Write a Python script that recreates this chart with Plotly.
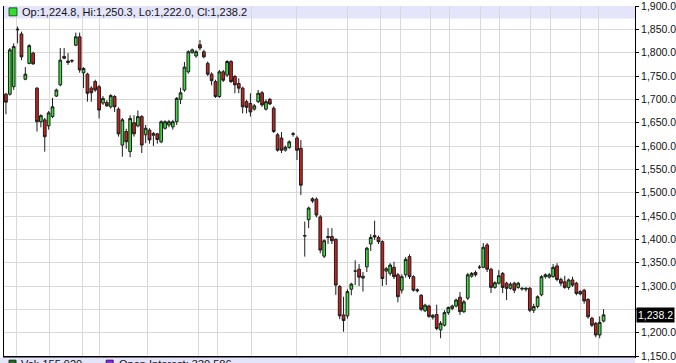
import plotly.graph_objects as go

opens = [1711,1711,1727,1849,1840,1743,1777,1799,1724,1652,1656,1643,1663,1707,1731,1788,1779,1782,1816,1834,
         1757,1754,1724,1738,1727,1692,1693,1684,1706,1679,1602,1631,1588,1650,1643,1663,1624,1634,1623,1626,
         1609,1638,1645,1641,1652,1700,1720,1759,1800,1793,1817,1802,1777,1754,1738,1706,1759,1752,1781,1749,
         1734,1724,1695,1691,1679,1695,1714,1679,1700,1681,1624,1617,1591,1597,1625,1617,1595,1407,1442,1487,
         1486,1448,1364,1406,1406,1400,1299,1238,1236,1293,1332,1336,1317,1341,1390,1408,1404,1395,1332,1327,
         1340,1324,1291,1324,1363,1320,1292,1280,1247,1257,1233,1239,1206,1216,1243,1252,1257,1276,1245,1274,
         1321,1329,1340,1340,1388,1336,1297,1306,1327,1306,1295,1306,1297,1295,1293,1295,1248,1256,1281,1320,
         1319,1320,1343,1314,1309,1297,1313,1306,1288,1291,1271,1231,1220,1195,1224.8]
highs = [1714,1810,1820,1856,1845,1769,1818,1802,1726,1668,1660,1675,1703,1723,1810,1810,1799,1786,1843,1843,
         1769,1757,1728,1742,1731,1707,1698,1711,1709,1683,1660,1637,1666,1666,1676,1666,1645,1638,1630,1628,
         1655,1655,1656,1656,1705,1725,1780,1805,1809,1806,1827,1806,1781,1758,1742,1763,1763,1784,1784,1752,
         1745,1727,1699,1713,1690,1720,1718,1700,1703,1685,1628,1630,1601,1612,1630,1622,1613,1438,1470,1490,
         1490,1452,1400,1424,1424,1402,1302,1277,1293,1307,1355,1347,1330,1384,1411,1440,1408,1398,1341,1349,
         1352,1328,1325,1362,1368,1323,1295,1283,1262,1260,1240,1260,1225,1248,1256,1260,1273,1287,1270,1328,
         1330,1333,1345,1392,1392,1339,1310,1334,1330,1309,1308,1309,1309,1298,1297,1298,1262,1280,1323,1327,
         1328,1347,1349,1318,1322,1316,1320,1309,1291,1294,1274,1234,1223,1235,1250.3]
lows = [1668,1708,1720,1820,1784,1741,1775,1774,1631,1640,1588,1635,1660,1705,1728,1786,1774,1778,1814,1757,
        1724,1695,1695,1716,1659,1688,1684,1680,1673,1620,1577,1594,1576,1620,1640,1585,1606,1605,1600,1605,
        1606,1635,1640,1635,1645,1690,1716,1755,1798,1789,1805,1788,1750,1730,1703,1703,1737,1748,1735,1713,
        1713,1670,1670,1663,1676,1692,1684,1676,1688,1628,1588,1585,1588,1594,1620,1570,1495,1363,1424,1478,
        1447,1370,1360,1390,1390,1281,1229,1202,1230,1280,1302,1300,1288,1330,1375,1399,1390,1300,1302,1322,
        1315,1265,1284,1318,1315,1288,1286,1246,1244,1232,1228,1205,1188,1213,1238,1248,1254,1238,1242,1270,
        1318,1320,1336,1338,1330,1285,1294,1303,1285,1270,1292,1285,1294,1290,1288,1244,1242,1252,1278,1316,
        1316,1318,1310,1300,1294,1292,1298,1280,1280,1262,1230,1212,1190,1188,1222.0]
closes = [1694,1806,1813,1850,1791,1754,1815,1776,1652,1665,1620,1671,1684,1720,1784,1792,1782,1783,1834,1763,
          1766,1713,1714,1720,1677,1702,1686,1708,1684,1626,1656,1609,1659,1626,1663,1602,1638,1613,1627,1614,
          1652,1652,1652,1652,1702,1714,1769,1802,1806,1802,1810,1791,1754,1740,1706,1759,1741,1781,1738,1731,
          1724,1684,1683,1673,1686,1713,1688,1695,1690,1631,1591,1591,1597,1609,1626,1591,1516,1408,1467,1482,
          1452,1377,1397,1404,1397,1302,1236,1226,1288,1304,1332,1319,1321,1381,1404,1405,1395,1316,1337,1345,
          1320,1277,1320,1357,1320,1291,1290,1250,1259,1235,1237,1209,1220,1243,1254,1257,1270,1245,1266,1324,
          1327,1324,1340,1383,1336,1297,1307,1322,1297,1295,1304,1291,1306,1294,1295,1248,1256,1277,1320,1324,
          1324,1340,1314,1306,1297,1313,1302,1284,1283,1268,1234,1216,1195,1222,1238.2]
idx = list(range(len(closes)))

y_ticks = list(range(1150, 1901, 50))
hidden_tick = 1250  # covered by the last-price label in the reference
y_ticktext = ["" if v == hidden_tick else f"{v:,.1f}" for v in y_ticks]
x_grid = [2.6, 11.1, 19.6, 24, 36.6, 49.5, 54.4, 63.2, 75, 87.9, 96.4, 101.6, 109.5, 114.4,
          122.2, 127.3, 135.1, 140.2, 148, 152.6]

header_text = "Op:1,224.8, Hi:1,250.3, Lo:1,222.0, Cl:1,238.2"
last_label = "1,238.2"
vol_text = "Vol: 155,920"
oi_text = "Open Interest: 330,586"

FONT = "Liberation Sans, Arial, sans-serif"
LAV = "#e4e4fb"

fig = go.Figure()
fig.add_trace(go.Candlestick(
    x=idx, open=opens, high=highs, low=lows, close=closes,
    increasing=dict(fillcolor="#3ddc3d", line=dict(color="#1c1c1c", width=1)),
    decreasing=dict(fillcolor="#cc2020", line=dict(color="#1c1c1c", width=1)),
    whiskerwidth=0, hoverinfo="skip", showlegend=False,
))

shapes = [
    dict(type="rect", xref="paper", yref="y", x0=0, x1=1, y0=1873, y1=1900,
         fillcolor=LAV, line=dict(width=0), layer="below"),
    dict(type="rect", xref="paper", yref="y", x0=0.008, x1=0.0205, y0=1879, y1=1896,
         fillcolor="#33dd33", line=dict(color="#1a5a1a", width=1), layer="above"),
    dict(type="rect", xref="paper", yref="paper", x0=-0.01, x1=1, y0=-0.03, y1=-0.004,
         fillcolor=LAV, line=dict(width=0), layer="above"),
    dict(type="rect", xref="paper", yref="paper", x0=0.008, x1=0.019, y0=-0.045, y1=-0.012,
         fillcolor="#1f6b1f", line=dict(color="#0d330d", width=1), layer="above"),
    dict(type="rect", xref="paper", yref="paper", x0=0.162, x1=0.173, y0=-0.045, y1=-0.012,
         fillcolor="#8a2be2", line=dict(color="#3a0f6a", width=1), layer="above"),
]

annotations = [
    dict(xref="paper", yref="y", x=0.026, y=1886.5, text=header_text, showarrow=False,
         xanchor="left", yanchor="middle", font=dict(family=FONT, size=11, color="#111")),
    dict(xref="paper", yref="y", x=1, y=closes[-1], text=last_label, showarrow=False,
         xanchor="left", yanchor="middle", xshift=1, bgcolor="#000", borderpad=1,
         font=dict(family=FONT, size=10.5, color="#fff")),
    dict(xref="paper", yref="paper", x=0.025, y=0.0, text=vol_text, showarrow=False,
         xanchor="left", yanchor="top", borderpad=0, yshift=-1,
         font=dict(family=FONT, size=11, color="#111")),
    dict(xref="paper", yref="paper", x=0.18, y=0.0, text=oi_text, showarrow=False,
         xanchor="left", yanchor="top", borderpad=0, yshift=-1,
         font=dict(family=FONT, size=11, color="#111")),
]

fig.update_layout(
    width=676, height=363,
    margin=dict(l=4, r=41, t=6, b=7, autoexpand=False),
    paper_bgcolor="white", plot_bgcolor="rgba(0,0,0,0)",
    boxgap=0.0,
    shapes=shapes, annotations=annotations,
    xaxis=dict(range=[-0.5, 162.1], rangeslider=dict(visible=False), tickvals=x_grid,
               showticklabels=False, ticks="", showgrid=True, gridcolor="#d9d9d9", gridwidth=1,
               showline=True, linecolor="#000", linewidth=2, zeroline=False, fixedrange=True,
               automargin=False),
    yaxis=dict(range=[1150, 1900], side="right", tickvals=y_ticks, ticktext=y_ticktext,
               ticks="outside", ticklen=3, tickcolor="#000", ticklabeloverflow="allow",
               showgrid=True, gridcolor="#d9d9d9", gridwidth=1, automargin=False,
               showline=True, mirror=True, linecolor="#000", linewidth=1, zeroline=False,
               tickfont=dict(family=FONT, size=10.5, color="#111")),
    font=dict(family=FONT),
)

fig.write_html("out.html")
